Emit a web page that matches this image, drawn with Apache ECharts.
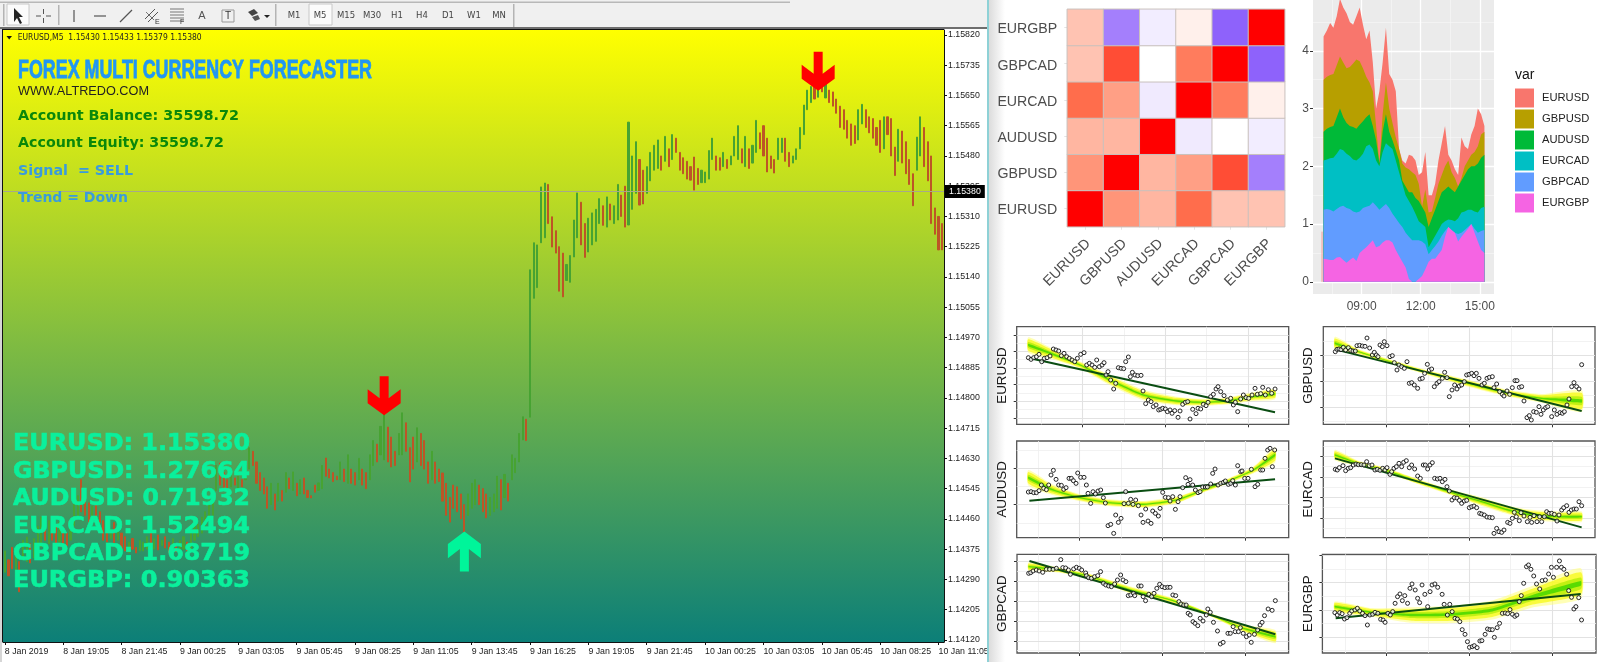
<!DOCTYPE html>
<html><head><meta charset="utf-8">
<style>html,body{margin:0;padding:0;background:#fff}#c{width:1600px;height:662px}</style>
<script src="https://cdn.jsdelivr.net/npm/echarts@6/dist/echarts.min.js"></script>
</head><body><div id="c"></div>
<script>
// ---------- main price chart (points above 1.14000, one bar per 10 minutes) ----------
const barHigh=[370,345,380,360,340,400,409,390,405,440,465,430,455,465,440,450,430,420,450,500,525,570,540,505,495,505,480,455,445,430,450,440,420,410,395,405,380,400,395,410,420,405,415,400,410,395,405,385,400,410,395,420,440,445,465,480,505,510,610,617,590,570,589,575,580,570,610,660,650,620,590,575,550,560,530,560,540,590,575,592,560,570,575,540,525,555,561,610,631,600,590,580,620,600,640,600,590,630,600,590,640,680,670,720,758,718,690,650,700,758,730,660,690,716,700,680,620,650,620,600,589,560,520,555,550,530,500,530,560,570,555,545,530,520,530,580,570,585,560,640,630,700,747,740,1160,1236,1230,1393,1404,1400,1309,1270,1225,1207,1175,1200,1300,1376,1350,1290,1305,1320,1330,1360,1340,1365,1345,1340,1400,1370,1395,1575,1480,1520,1470,1440,1450,1490,1510,1525,1480,1535,1500,1540,1530,1490,1475,1465,1450,1477,1445,1440,1435,1495,1530,1480,1475,1490,1470,1480,1535,1565,1500,1535,1500,1510,1580,1545,1565,1530,1480,1470,1530,1530,1530,1490,1480,1500,1560,1623,1665,1675,1685,1680,1690,1688,1665,1660,1640,1620,1610,1580,1570,1565,1610,1625,1610,1590,1585,1560,1580,1590,1590,1585,1505,1555,1550,1520,1470,1430,1533,1590,1560,1520,1480,1334,1310,1290];
const barLow=[310,300,320,300,255,345,340,336,350,385,381,400,390,400,385,395,390,385,400,440,465,480,470,450,465,455,450,400,395,405,393,400,375,370,365,375,364,370,370,375,380,375,373,385,378,365,370,368,372,375,370,375,400,410,420,440,455,470,540,555,545,547,550,555,540,550,570,600,610,560,540,530,490,500,485,510,510,535,545,540,525,530,530,520,519,535,540,545,580,575,565,570,570,565,560,560,555,570,555,545,570,610,620,640,626,620,606,610,640,640,650,564,600,620,610,600,560,570,560,565,510,470,451,490,480,460,423,470,490,500,500,480,463,470,480,490,485,520,510,570,590,620,682,680,746,1080,1110,1236,1250,1290,1224,1207,1100,1084,1130,1125,1196,1250,1230,1195,1210,1230,1240,1290,1285,1280,1300,1290,1300,1310,1280,1286,1330,1375,1342,1345,1375,1410,1440,1445,1440,1465,1450,1470,1490,1440,1430,1415,1412,1384,1400,1405,1405,1415,1470,1440,1440,1450,1445,1455,1480,1470,1460,1450,1445,1460,1490,1500,1480,1435,1445,1432,1470,1490,1465,1450,1460,1470,1500,1540,1610,1630,1640,1645,1660,1643,1630,1620,1600,1560,1555,1530,1510,1515,1525,1570,1560,1545,1530,1510,1490,1500,1540,1480,1425,1465,1460,1430,1400,1340,1440,1480,1450,1410,1290,1260,1216,1216];
const barDir=("UDDUD UUDU UUDU DDUD DU UUDD DUDD DDUDU DDUDDU UUDUDUD DUDUUD UUUU UUU UDD DUDUD UUD DDD DUDU DUDUD UDDD DUU DDDDUD UDDUDD UUDUU DDDU UDD DUDD DUDD DDD DDDD UUUD DDUU UDUD UUU UD "+
"UUUUUD DD DD UU UUDDUUU UDUDU UD DUUUDDU UUUD UDUD DDDD DDUU UUD DUDU UUD UDU UDD DDD UUD DUU UUU UDUDU DDD DDD DDU UDDDD DUD DDU DDDDU UDDD DDD").replace(/ /g,'');
const timeLabels=['8 Jan 2019','8 Jan 19:05','8 Jan 21:45','9 Jan 00:25','9 Jan 03:05','9 Jan 05:45','9 Jan 08:25','9 Jan 11:05','9 Jan 13:45','9 Jan 16:25','9 Jan 19:05','9 Jan 21:45','10 Jan 00:25','10 Jan 03:05','10 Jan 05:45','10 Jan 08:25','10 Jan 11:05'];
const priceTicks=[120,205,290,375,460,545,630,715,800,885,970,1055,1140,1225,1310,1395,1480,1565,1650,1735,1820];
const lastPrice=1380;
const sellArrows=[[104,806],[223,1718]];
const buyArrows=[[126,368]];
const pairNames=['EURUSD','GBPUSD','AUDUSD','EURCAD','GBPCAD','EURGBP'];
const pairPrices=['1.15380','1.27664','0.71932','1.52494','1.68719','0.90363'];
const timeframes=['M1','M5','M15','M30','H1','H4','D1','W1','MN'];
// ---------- correlation heatmap ----------
const corrEURUSD=[1,.55,.38,.74,.31,.31];
const corrGBPUSD=[.55,1,.38,.50,.82,-.42];
const corrAUDUSD=[.38,.38,1,-.07,0,-.06];
const corrEURCAD=[.74,.50,-.07,1,.67,.08];
const corrGBPCAD=[.31,.82,0,.67,1,-.52];
const corrEURGBP=[.31,-.42,-.06,.08,-.52,1];
const corrRows=[corrEURUSD,corrGBPUSD,corrAUDUSD,corrEURCAD,corrGBPCAD,corrEURGBP];
// ---------- stacked area (cumulative top of each layer) ----------
const areaTimes=['07:04','07:14','07:24','07:34','07:44','07:54','08:04','08:14','08:24','08:34','08:44','08:54','09:04','09:14','09:24','09:34','09:44','09:54','10:04','10:14','10:24','10:34','10:44','10:54','11:04','11:14','11:24','11:34','11:44','11:54','12:04','12:14','12:24','12:34','12:44','12:54','13:04','13:14','13:24','13:34','13:44','13:54','14:04','14:14','14:24','14:34','14:44','14:54','15:04','15:14'];
const topEURGBP=[.40,.39,.38,.38,.42,.43,.38,.33,.38,.42,.36,.50,.55,.60,.66,.72,.60,.62,.68,.72,.72,.68,.55,.45,.35,.25,.05,0,0,.05,.10,.22,.35,.40,.40,.48,.55,.78,.95,.90,.85,.70,.78,.85,.92,1.0,.85,.70,.55,.50];
const topGBPCAD=[1.25,1.26,1.25,1.22,1.26,1.30,1.32,1.28,1.26,1.22,1.20,1.22,1.28,1.30,1.32,1.38,1.32,1.25,1.30,1.35,1.28,1.18,1.10,1.02,.95,.85,.78,.72,.72,.72,.70,.65,.48,.55,.62,.70,.80,.88,.95,.90,.85,.83,.85,.90,.95,1.0,.92,.85,.88,.90];
const topEURCAD=[2.10,2.12,2.14,2.15,2.22,2.30,2.28,2.22,2.18,2.12,2.10,2.15,2.22,2.35,2.38,2.30,2.10,2.00,2.25,2.40,2.35,2.30,2.10,1.90,1.70,1.50,1.40,1.30,1.18,1.05,1.00,.95,.60,.70,.80,.90,1.00,1.05,1.08,1.07,1.05,1.10,1.20,1.22,1.25,1.25,1.22,1.20,1.28,1.30];
const topAUDUSD=[2.60,2.65,2.68,2.70,2.85,3.00,2.85,2.75,2.70,2.68,2.65,2.72,2.78,2.85,2.90,2.70,2.45,2.05,2.60,2.90,2.60,2.45,2.28,2.10,1.75,1.65,1.55,1.55,1.45,1.40,1.30,1.20,.95,1.10,1.25,1.40,1.55,1.60,1.65,1.60,1.55,1.65,1.75,1.85,1.95,2.00,2.00,2.05,2.15,2.20];
const topGBPUSD=[3.50,3.55,3.58,3.60,3.75,3.90,3.80,3.70,3.72,3.78,3.85,3.82,3.70,3.55,3.45,3.30,2.70,2.05,2.90,3.45,3.00,2.75,2.50,2.30,2.05,1.98,1.95,1.90,1.85,1.70,1.30,1.60,1.20,1.22,1.45,1.70,1.85,2.00,2.10,1.90,1.80,1.65,1.80,2.00,2.10,2.20,2.25,2.35,2.55,2.60];
const topEURUSD=[4.25,4.35,4.48,4.40,4.60,4.90,4.75,4.65,4.50,4.45,4.60,4.75,4.45,4.20,4.35,3.80,3.00,3.30,3.80,4.40,3.60,3.50,3.30,2.30,2.10,2.05,2.20,2.18,2.10,1.85,1.90,2.25,1.50,1.50,1.70,2.10,2.40,2.70,2.20,2.10,1.95,1.85,2.50,2.35,2.30,2.55,2.70,3.00,2.90,2.70];
// ---------- regression panels: observations [x, y] in unlabelled panel units (y grows downward) ----------
const eurusdObs=[[175,128],[183,133],[191,128],[199,125],[207,118],[215,140],[223,130],[231,128],[240,123],[250,102],[258,105],[266,108],[274,122],[282,115],[290,125],[298,130],[306,135],[314,140],[322,130],[332,118],[342,113],[350,150],[358,145],[366,150],[374,157],[380,135],[388,155],[396,150],[402,143],[408,180],[414,170],[422,195],[431,222],[437,205],[445,158],[453,160],[461,161],[467,140],[475,126],[481,185],[487,172],[495,180],[503,182],[513,181],[519,228],[527,266],[535,255],[543,260],[550,275],[558,270],[566,285],[572,283],[578,280],[586,282],[592,290],[600,285],[606,295],[614,287],[624,307],[630,288],[638,268],[646,262],[653,260],[660,312],[668,283],[678,296],[684,280],[692,282],[700,268],[708,272],[714,262],[722,245],[730,238],[738,222],[744,215],[752,230],[762,242],[772,255],[782,250],[790,270],[796,262],[803,290],[812,252],[820,240],[828,248],[836,250],[846,240],[855,220],[862,238],[872,236],[878,217],[886,240],[895,224],[905,235],[915,222]];
const audusdObs=[[175,531],[183,530],[191,533],[199,533],[207,527],[214,510],[221,520],[229,524],[236,510],[243,480],[250,466],[258,493],[266,510],[274,511],[281,523],[288,518],[297,490],[304,490],[310,497],[318,505],[323,474],[332,487],[342,487],[349,510],[354,535],[362,565],[369,530],[376,537],[384,528],[392,525],[400,548],[406,564],[414,632],[422,628],[431,655],[437,600],[445,622],[453,610],[462,566],[467,530],[475,565],[482,553],[489,568],[497,555],[505,572],[513,600],[519,622],[527,582],[534,618],[543,625],[548,588],[556,595],[565,603],[570,580],[578,532],[586,547],[595,548],[600,558],[608,545],[616,583],[624,560],[630,545],[638,518],[647,488],[654,508],[660,494],[668,510],[676,525],[684,533],[690,530],[698,516],[706,516],[712,516],[722,507],[728,475],[735,462],[744,510],[752,505],[760,502],[766,498],[775,508],[782,505],[788,497],[796,510],[803,452],[812,470],[816,468],[824,490],[834,490],[844,463],[855,515],[863,508],[872,465],[878,465],[885,430],[893,405],[900,400],[907,455],[914,405]];
const gbpusdObs=[[181,110],[186,103],[192,102],[198,104],[205,97],[212,105],[220,98],[227,106],[234,108],[241,108],[246,92],[254,91],[262,93],[270,94],[276,69],[284,99],[292,120],[298,112],[304,120],[309,125],[315,90],[322,95],[328,80],[336,92],[345,125],[352,122],[358,143],[366,165],[372,150],[380,155],[388,160],[396,140],[403,205],[410,203],[418,210],[428,220],[435,192],[442,190],[449,175],[457,148],[463,165],[470,162],[478,215],[486,205],[492,200],[502,190],[509,172],[516,188],[523,245],[531,225],[539,210],[546,222],[553,213],[560,210],[568,200],[575,180],[582,178],[590,175],[597,182],[604,175],[612,190],[621,210],[628,205],[636,190],[643,187],[652,185],[657,218],[665,207],[674,230],[682,238],[687,243],[696,228],[704,238],[712,218],[720,197],[726,197],[733,217],[740,215],[747,258],[756,308],[763,302],[769,315],[776,290],[784,292],[792,275],[798,298],[805,285],[812,278],[818,275],[830,305],[838,285],[846,298],[855,293],[862,295],[868,290],[876,270],[882,252],[890,215],[897,203],[905,215],[912,222],[920,149]];
const eurcadObs=[[181,463],[187,465],[193,458],[204,452],[212,467],[220,460],[227,458],[235,450],[243,447],[250,449],[259,449],[267,450],[275,440],[283,452],[291,450],[300,465],[307,463],[315,466],[323,460],[330,465],[336,458],[345,478],[350,470],[357,460],[364,455],[372,445],[380,455],[386,442],[394,437],[403,458],[410,450],[419,462],[428,483],[436,490],[445,450],[451,450],[458,462],[465,450],[472,443],[479,490],[487,492],[495,490],[502,500],[510,493],[516,515],[523,528],[531,555],[538,548],[546,549],[553,556],[560,565],[568,558],[575,556],[583,578],[590,575],[597,573],[605,578],[614,595],[620,597],[628,600],[636,606],[644,607],[652,608],[657,655],[665,640],[672,650],[680,652],[687,645],[698,622],[705,625],[712,610],[718,592],[724,605],[733,617],[738,593],[747,603],[757,620],[765,607],[770,622],[777,602],[786,620],[794,605],[800,620],[808,605],[815,590],[822,595],[830,595],[838,598],[846,618],[852,600],[860,585],[866,578],[875,572],[882,592],[889,585],[897,582],[904,582],[912,560],[920,572]];
const gbpcadObs=[[146,115],[151,113],[157,108],[165,105],[172,108],[181,112],[190,103],[198,103],[207,103],[215,100],[226,74],[231,98],[238,99],[245,105],[250,118],[258,102],[265,97],[272,100],[278,105],[288,114],[290,122],[295,128],[302,130],[310,125],[318,122],[325,110],[332,145],[338,150],[345,153],[352,155],[360,147],[367,135],[375,120],[381,135],[388,140],[394,182],[400,180],[407,175],[410,182],[420,153],[426,153],[431,185],[437,197],[445,178],[452,185],[458,175],[465,160],[472,148],[478,155],[485,158],[492,157],[498,157],[505,180],[512,182],[520,200],[525,207],[532,210],[538,210],[543,235],[548,240],[555,260],[560,265],[567,272],[573,250],[580,258],[588,240],[592,222],[598,232],[606,262],[616,288],[623,327],[630,322],[642,295],[648,295],[655,275],[660,290],[668,290],[673,278],[680,295],[688,305],[695,300],[700,322],[708,298],[716,285],[722,270],[727,262],[733,242],[742,222],[752,226],[760,197]];
const eurgbpObs=[[908,233],[914,240],[920,233],[926,236],[932,252],[938,248],[945,235],[950,228],[958,225],[964,220],[970,228],[977,235],[983,242],[989,270],[995,240],[1002,238],[1008,232],[1015,235],[1022,253],[1028,255],[1033,262],[1040,235],[1046,240],[1052,230],[1058,205],[1064,185],[1070,177],[1076,197],[1082,182],[1089,205],[1095,160],[1100,147],[1108,165],[1114,190],[1119,203],[1125,150],[1132,178],[1139,215],[1145,170],[1150,150],[1157,147],[1164,157],[1175,178],[1180,208],[1188,240],[1194,208],[1200,230],[1207,250],[1213,252],[1219,260],[1225,284],[1232,298],[1238,320],[1243,337],[1250,335],[1255,332],[1262,338],[1269,318],[1274,317],[1282,298],[1288,282],[1294,284],[1300,284],[1305,307],[1312,278],[1318,265],[1325,235],[1332,234],[1338,236],[1344,224],[1350,238],[1356,244],[1361,240],[1367,200],[1372,182],[1378,145],[1385,95],[1390,90],[1396,103],[1403,123],[1410,147],[1418,162],[1424,137],[1432,135],[1440,117],[1447,97],[1452,127],[1460,97],[1467,78],[1472,97],[1478,103],[1485,118],[1490,167],[1497,187],[1503,222],[1508,215],[1515,188],[1522,255]];
// smooth fit: [x, centre, half-width of the confidence band]
const eurusdBand=[[175,90,18],[250,118,12],[330,150,8],[420,195,12],[520,240,12],[620,258,10],[700,262,8],[770,258,8],[850,245,10],[915,237,12]];
const audusdBand=[[175,488,18],[250,525,12],[330,548,8],[420,563,8],[520,568,8],[620,555,8],[700,525,6],[770,500,6],[850,465,8],[915,420,18]];
const gbpusdBand=[[180,85,15],[250,110,6],[330,135,5],[430,165,5],[580,205,8],[700,235,8],[800,250,10],[920,258,25]];
const eurcadBand=[[180,420,12],[250,445,6],[330,465,6],[430,500,6],[520,530,6],[620,560,10],[700,585,10],[770,600,12],[850,605,12],[920,605,12]];
const gbpcadBand=[[146,95,10],[220,105,6],[300,125,6],[400,165,8],[500,195,6],[600,240,4],[680,280,8],[760,305,15]];
const eurgbpBand=[[908,215,12],[1000,232,10],[1100,240,18],[1200,238,20],[1300,225,22],[1400,185,25],[1520,145,35]];
// linear fit end points
const eurusdFit=[[180,130],[915,292]];
const audusdFit=[[178,557],[915,493]];
const gbpusdFit=[[180,103],[920,288]];
const eurcadFit=[[180,430],[920,637]];
const gbpcadFit=[[148,78],[760,298]];
const eurgbpFit=[[910,250],[1520,177]];

const chart=echarts.init(document.getElementById('c'),null,{renderer:'canvas',width:1600,height:662});
const grids=[],xAxes=[],yAxes=[],series=[],g=[];
const FONT='"Liberation Sans",Arial,sans-serif';
const TICKFONT='"Liberation Sans"';

function gridMarks(idx,xMaj,xMin,yMaj,yMin,cMaj,cMin,wMaj,wMin,z){
  const d=[];
  xMin.forEach(v=>d.push({xAxis:v,lineStyle:{color:cMin,width:wMin,type:'solid'}}));
  yMin.forEach(v=>d.push({yAxis:v,lineStyle:{color:cMin,width:wMin,type:'solid'}}));
  xMaj.forEach(v=>d.push({xAxis:v,lineStyle:{color:cMaj,width:wMaj,type:'solid'}}));
  yMaj.forEach(v=>d.push({yAxis:v,lineStyle:{color:cMaj,width:wMaj,type:'solid'}}));
  return {type:'line',xAxisIndex:idx,yAxisIndex:idx,data:[],z:z||1,silent:true,showSymbol:false,
    markLine:{silent:true,symbol:['none','none'],label:{show:false},animation:false,data:d,z:z||1}};
}

// ---- 0: price chart
const barCount=258;
grids.push({left:3,top:30,width:941,height:612,show:true,borderWidth:0,z:0,
  backgroundColor:new echarts.graphic.LinearGradient(0,0,0,1,[{offset:0,color:'#ffff00'},{offset:.5,color:'#82bd40'},{offset:1,color:'#0c7f78'}])});
const barCats=Array.from({length:barCount},(_,i)=>i%16===0?(timeLabels[i/16]||''):'');
xAxes.push({type:'category',gridIndex:0,data:barCats,boundaryGap:true,
  axisLine:{show:true,lineStyle:{color:'#111',width:1}},
  axisTick:{show:true,length:3,interval:i=>i%16===0,alignWithLabel:true,lineStyle:{color:'#111'}},
  axisLabel:{interval:i=>i%16===0,align:'left',margin:5,fontSize:8.8,fontFamily:TICKFONT,color:'#222',hideOverlap:false},
  splitLine:{show:false}});
yAxes.push({type:'value',gridIndex:0,position:'right',min:114,max:1834,
  axisLine:{show:true,onZero:false,lineStyle:{color:'#111',width:1}},
  axisTick:{show:true,length:3,customValues:priceTicks,lineStyle:{color:'#111'}},
  axisLabel:{customValues:priceTicks,fontSize:8.8,fontFamily:TICKFONT,color:'#222',margin:4,formatter:v=>(1.14+v/1e5).toFixed(5)},
  splitLine:{show:false}});
series.push({type:'candlestick',xAxisIndex:0,yAxisIndex:0,barWidth:1.6,z:3,silent:true,
  data:barHigh.map((h,i)=>barDir[i]==='U'?[barLow[i],h,barLow[i],h]:[h,barLow[i],barLow[i],h]),
  itemStyle:{color:'#47a332',color0:'#bd5526',borderColor:'#47a332',borderColor0:'#bd5526',borderWidth:1},
  markLine:{silent:true,symbol:['none','none'],animation:false,
    lineStyle:{color:'#a7a98a',width:1,type:'solid'},
    data:[{yAxis:lastPrice}],
    label:{show:true,position:'end',formatter:()=>(1.14+lastPrice/1e5).toFixed(5),backgroundColor:'#000',color:'#fff',fontSize:8.8,fontFamily:TICKFONT,padding:[2,4,2,4],distance:1}}});
const downPath='path://M12 0H21V22L33 13V27L16.5 39L0 27V13L12 22Z';
const upPath='path://M12 39H21V17L33 26V12L16.5 0L0 12V26L12 17Z';
series.push({type:'scatter',xAxisIndex:0,yAxisIndex:0,data:sellArrows,symbol:downPath,symbolSize:[33,39],itemStyle:{color:'#ff0000',opacity:1},z:6,silent:true});
series.push({type:'scatter',xAxisIndex:0,yAxisIndex:0,data:buyArrows,symbol:upPath,symbolSize:[33,40],itemStyle:{color:'#00f59a',opacity:1},z:6,silent:true});

// ---- 1: heatmap
grids.push({left:1067.3,top:9.3,width:217.4,height:217.4});
const heatText={fontSize:14.2,fontFamily:FONT,color:'#4d4d4d'};
xAxes.push({type:'category',gridIndex:1,data:pairNames,axisLine:{show:false},axisTick:{show:true,length:3,alignWithLabel:true,lineStyle:{color:'#e4e4e4'}},
  axisLabel:{rotate:45,margin:12,interval:0,formatter:v=>'{a|'+v+'}',rich:{a:{...heatText,padding:[8,0,0,0]}}},splitLine:{show:false},splitArea:{show:false}});
yAxes.push({type:'category',gridIndex:1,data:pairNames,axisLine:{show:false},axisTick:{show:true,length:3,alignWithLabel:true,lineStyle:{color:'#e4e4e4'}},
  axisLabel:{margin:10,interval:0,formatter:v=>'{a|'+v+'}',rich:{a:{...heatText,padding:[4,0,0,0]}}},splitLine:{show:false},splitArea:{show:false}});
const heatData=[];
corrRows.forEach((row,y)=>row.forEach((v,x)=>heatData.push([x,y,v])));
const heatIndex=series.length;
series.push({type:'heatmap',xAxisIndex:1,yAxisIndex:1,data:heatData,silent:true,z:2,
  itemStyle:{borderColor:'#c9c1bd',borderWidth:1},emphasis:{disabled:true}});

// ---- 2: layered area (each layer filled down to zero, top layer painted first)
grids.push({left:1313,top:0,width:181,height:294,show:true,backgroundColor:'#ebebeb',borderWidth:0,z:0});
const hourTicks=[9,12,15];
const valueTicks=[0,1,2,3,4];
xAxes.push({type:'value',gridIndex:2,min:6.53,max:15.72,axisLine:{show:false},
  axisTick:{show:true,length:3,customValues:hourTicks,lineStyle:{color:'#333'}},
  axisLabel:{customValues:hourTicks,fontSize:12,fontFamily:FONT,color:'#4d4d4d',margin:7,formatter:v=>String(v).padStart(2,'0')+':00'},splitLine:{show:false}});
yAxes.push({type:'value',gridIndex:2,min:-0.21,max:4.88,axisLine:{show:false,onZero:false},
  axisTick:{show:true,length:3,customValues:valueTicks,lineStyle:{color:'#333'}},
  axisLabel:{customValues:valueTicks,fontSize:12,fontFamily:FONT,color:'#4d4d4d',margin:4},splitLine:{show:false}});
series.push(gridMarks(2,hourTicks,[7.5,10.5,13.5],valueTicks,[.5,1.5,2.5,3.5,4.5],'#ffffff','#f6f6f6',1.3,.7,1));
const areaHours=areaTimes.map(t=>{const p=t.split(':');return +p[0]+p[1]/60;});
const layers=[['EURUSD',topEURUSD,'#f8766d'],['GBPUSD',topGBPUSD,'#b79f00'],['AUDUSD',topAUDUSD,'#00ba38'],['EURCAD',topEURCAD,'#00bfc4'],['GBPCAD',topGBPCAD,'#619cff'],['EURGBP',topEURGBP,'#f564e3']];
layers.forEach(([name,top,col])=>{
  series.push({type:'line',name,xAxisIndex:2,yAxisIndex:2,showSymbol:false,symbol:'none',silent:true,z:3,
    data:top.map((v,i)=>[areaHours[i],v]),
    lineStyle:{width:0},areaStyle:{color:col,opacity:1,origin:'auto'},itemStyle:{color:col}});
});
const stripe=[[6.99,0],[6.99,.87]];
series.push({type:'line',xAxisIndex:2,yAxisIndex:2,data:stripe,showSymbol:false,symbol:'none',silent:true,z:3,lineStyle:{color:'#f49a94',width:1}});

// ---- 3..8: regression panels
const panels=[
 {n:'EURUSD',obs:eurusdObs,band:eurusdBand,fit:eurusdFit,l:1016.7,t:326.7,r:1288.7,b:424.3,xr:[140,956],yr:[35,328],xM:[337,586,835],xm:[213,462,710],yM:[60,109,159,209,259,309],ym:[85,134,184,234,284]},
 {n:'AUDUSD',obs:audusdObs,band:audusdBand,fit:audusdFit,l:1016.7,t:441,r:1288.7,b:537.7,xr:[140,956],yr:[378,668],xM:[328,577,826],xm:[205,455,703],yM:[459,568],ym:[405,513,625]},
 {n:'GBPUSD',obs:gbpusdObs,band:gbpusdBand,fit:gbpusdFit,l:1323.3,t:326.7,r:1595,b:424.3,xr:[145,960],yr:[35,328],xM:[333,582,831],xm:[210,459,708],yM:[120,200,278],ym:[80,160,240,318]},
 {n:'EURCAD',obs:eurcadObs,band:eurcadBand,fit:eurcadFit,l:1323.3,t:441,r:1595,b:537.7,xr:[145,960],yr:[378,668],xM:[333,582,831],xm:[210,459,708],yM:[425,487,547,610],ym:[395,455,517,578,640]},
 {n:'GBPCAD',obs:gbpcadObs,band:gbpcadBand,fit:gbpcadFit,l:1017,t:554.3,r:1288.6,b:653,xr:[117,793],yr:[58,354],xM:[273,479,686],xm:[171,375,583],yM:[78,139,199,259,319],ym:[108,169,229,289,345]},
 {n:'EURGBP',obs:eurgbpObs,band:eurgbpBand,fit:eurgbpFit,l:1322.4,t:554.3,r:1596,b:653,xr:[877,1558],yr:[58,354],xM:[1035,1242,1449],xm:[935,1140,1345],yM:[60,143,226,308],ym:[102,184,265,345]}
];
panels.forEach(p=>{
  const idx=grids.length;
  grids.push({left:p.l,top:p.t,width:p.r-p.l,height:p.b-p.t,show:true,backgroundColor:'#fff',borderColor:'#555',borderWidth:1.3,z:4});
  xAxes.push({type:'value',gridIndex:idx,min:p.xr[0],max:p.xr[1],axisLine:{show:false},
    axisTick:{show:true,length:3,customValues:p.xM,lineStyle:{color:'#333'}},axisLabel:{show:false},splitLine:{show:false}});
  yAxes.push({type:'value',gridIndex:idx,min:p.yr[0],max:p.yr[1],inverse:true,axisLine:{show:false,onZero:false},
    axisTick:{show:true,length:3,customValues:p.yM,lineStyle:{color:'#333'}},axisLabel:{show:false},splitLine:{show:false},
    name:p.n,nameLocation:'middle',nameGap:8,nameRotate:90,nameTextStyle:{fontSize:13.4,fontFamily:FONT,color:'#1a1a1a'}});
  series.push(gridMarks(idx,p.xM,p.xm,p.yM,p.ym,'#e2e2e2','#efefef',1.1,.8,5));
  series.push({type:'custom',xAxisIndex:idx,yAxisIndex:idx,z:6,silent:true,clip:true,data:[[p.band[0][0],p.band[0][1]]],
    renderItem:(params,api)=>{
      const layer=(k,fill)=>{
        const pts=[];
        p.band.forEach(b=>pts.push(api.coord([b[0],b[1]-b[2]*k])));
        p.band.slice().reverse().forEach(b=>pts.push(api.coord([b[0],b[1]+b[2]*k])));
        return {type:'polygon',shape:{points:pts,smooth:.2},style:{fill,stroke:null}};
      };
      return {type:'group',children:[layer(1.3,'rgba(255,255,110,.5)'),layer(.95,'rgba(248,250,30,.8)'),layer(.5,'rgba(185,238,10,.85)'),layer(.2,'rgba(70,215,0,.85)')]};
    }});
  series.push({type:'line',xAxisIndex:idx,yAxisIndex:idx,data:p.fit,showSymbol:false,symbol:'none',silent:true,z:7,lineStyle:{color:'#0a4d12',width:2}});
  series.push({type:'scatter',xAxisIndex:idx,yAxisIndex:idx,data:p.obs,symbol:'circle',symbolSize:4,silent:true,z:8,
    itemStyle:{color:'rgba(255,255,255,.75)',borderColor:'#111',borderWidth:.9,opacity:1}});
});

// ---- overlay text and window furniture
const mctx=document.createElement('canvas').getContext('2d');
function T(text,x,y,font,fill,w,sw){
  mctx.font=font;
  const sx=w?w/mctx.measureText(text).width:1;
  const style={text,font,fill,textAlign:'left',textVerticalAlign:'middle'};
  if(sw){style.stroke=fill;style.lineWidth=sw;}
  g.push({type:'text',x,y,scaleX:sx,z:50,silent:true,style});
}
function C(text,x,y,font,fill){g.push({type:'text',x,y,z:50,silent:true,style:{text,font,fill,textAlign:'center',textVerticalAlign:'middle'}});}
function L(pts,stroke,w){g.push({type:'polyline',z:50,silent:true,shape:{points:pts},style:{stroke,lineWidth:w||1,fill:null}});}
function R(x,y,w,h,fill,stroke,z){g.push({type:'rect',z:z||49,silent:true,shape:{x,y,width:w,height:h},style:{fill,stroke:stroke||null,lineWidth:1}});}
// toolbar
R(0,0,987,27,'#f0f0f0');
R(0,1.5,790,1.5,'#b8b8b8');
R(0,27,987,2,'#6e6e6e');
R(7,4,22,21,'#fbfbfb','#c8c8c8');
R(309,4,23,21,'#fbfbfb','#c8c8c8');
[[3,4,22],[58,5,20],[275,4,22],[513,4,23]].forEach(a=>R(a[0],a[1],1.5,a[2],'#b4b4b4'));
g.push({type:'polygon',z:50,silent:true,shape:{points:[[14,8],[14,22],[17,18],[20,24],[22,23],[19,17],[23,17]]},style:{fill:'#222'}});
L([[36,16],[41,16]],'#555');L([[46,16],[51,16]],'#555');L([[43.5,9],[43.5,14]],'#555');L([[43.5,18],[43.5,23]],'#555');
L([[74,10],[74,22]],'#555',1.2);L([[94,16],[106,16]],'#555',1.2);L([[120,22],[132,10]],'#555',1.2);
L([[145,19],[155,9]],'#555');L([[148,22],[158,12]],'#555');L([[146,12],[154,20]],'#777');
T('E',155,22,'7px '+FONT,'#333');
[9,12,15,18,21].forEach(y=>L([[170,y],[184,y]],'#777'));
T('F',180,22,'7px '+FONT,'#333');
C('A',202,16,'11px '+FONT,'#555');
R(222,10,12,12,'none','#999',50);C('T',228,16,'10px '+FONT,'#333');
g.push({type:'polygon',z:50,silent:true,shape:{points:[[248,12],[254,9],[258,13],[252,16]]},style:{fill:'#444'}});
g.push({type:'polygon',z:50,silent:true,shape:{points:[[252,17],[258,15],[260,19],[255,21]]},style:{fill:'#555'}});
g.push({type:'polygon',z:50,silent:true,shape:{points:[[264,15],[270,15],[267,18]]},style:{fill:'#222'}});
timeframes.forEach((t,i)=>C(t,[294,320,346,372,397,422,448,474,499][i],16,'8.5px "DejaVu Sans"','#444'));
// chart window edges
R(0,29,2,633,'#d6d6d6',null,60);R(2,29,1,613,'#111',null,60);
R(3,29,941,1,'#111',null,60);
// divider + soft shadow (behind the axis labels)
g.push({type:'rect',z:-1,silent:true,shape:{x:989,y:0,width:16,height:662},style:{fill:new echarts.graphic.LinearGradient(0,0,1,0,[{offset:0,color:'#dcdcdc'},{offset:1,color:'#ffffff'}])}});
R(987,0,2,662,'#8ed1d6',null,60);
// texts on the chart
g.push({type:'polygon',z:50,silent:true,shape:{points:[[6.5,36],[12,36],[9.2,39.5]]},style:{fill:'#111'}});
T('EURUSD,M5  1.15430 1.15433 1.15379 1.15380',17.7,37.7,'9px "DejaVu Sans"','#222',184);
T('FOREX MULTI CURRENCY FORECASTER',18,71,'bold 25px "Liberation Sans Narrow","Liberation Sans"','#2196f3',354,.8);
T('WWW.ALTREDO.COM',18,91.7,'13.5px "Liberation Sans"','#222',131);
T('Account Balance: 35598.72',18,116,'bold 14px "DejaVu Sans"','#0a870a',221);
T('Account Equity: 35598.72',18,143.6,'bold 14px "DejaVu Sans"','#0a870a',206);
T('Signal  = SELL',18,171,'bold 14px "DejaVu Sans"','#3a9bdc',115);
T('Trend = Down',18,198,'bold 14px "DejaVu Sans"','#3a9bdc',110);
pairNames.forEach((n,i)=>T(n+': '+pairPrices[i],13,444.5+i*27.4,'bold 23px "DejaVu Sans"','#0af09c',237,.6));
T('var',1515,75,'14px '+FONT,'#111');

const option={
  animation:false,backgroundColor:'#ffffff',
  grid:grids,xAxis:xAxes,yAxis:yAxes,series,
  visualMap:{show:false,seriesIndex:heatIndex,dimension:2,min:-1,max:1,
    inRange:{color:['#2700f7','#5a2ff8','#9366fb','#c9b3fd','#ffffff','#ffcfc0','#ff9f85','#ff6b4a','#ff0000']}},
  legend:{show:true,orient:'vertical',left:1515,top:88.5,padding:0,itemWidth:19,itemHeight:19,itemGap:2,icon:'rect',selectedMode:false,
    data:['EURUSD','GBPUSD','AUDUSD','EURCAD','GBPCAD','EURGBP'],
    textStyle:{fontSize:11.2,fontFamily:FONT,color:'#222',padding:[0,0,0,3]}},
  graphic:{elements:g}
};
chart.setOption(option);
</script></body></html>
